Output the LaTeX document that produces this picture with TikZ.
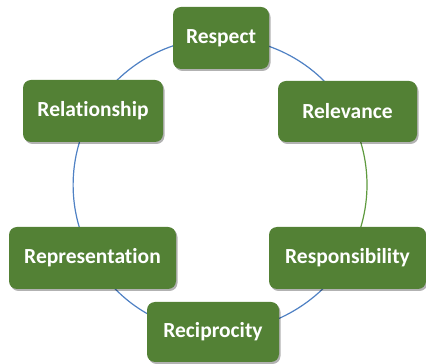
\documentclass[tikz,border=0pt]{standalone}
\usepackage{fontspec}
\setmainfont{Carlito}[Ligatures={NoCommon}]
\usetikzlibrary{shadows,backgrounds}
\definecolor{boxgreen}{HTML}{538135}
\definecolor{ringblue}{HTML}{4F81C4}
\definecolor{ringgreen}{HTML}{5E9A3E}
\begin{document}
\begin{tikzpicture}[x=1pt,y=1pt,
  rbox/.style={draw=none, fill=boxgreen, rounded corners=8pt,
    text=white, font=\fontsize{21.5}{25}\selectfont\bfseries,
    inner sep=0pt, align=center,
    drop shadow={shadow xshift=1.5pt, shadow yshift=-2pt, opacity=0.3, fill=black}},
  ring/.style={line width=1.2pt, ringblue},
  ringg/.style={line width=1.2pt, ringgreen},
  arcseg/.style={bend right=30, looseness=0.91}]
\useasboundingbox (0,0) rectangle (426,364);

\node[rbox, minimum width=96pt,  minimum height=62pt] (respect)  at (221,326)   {Respect};
\node[rbox, minimum width=139pt, minimum height=61pt] (relev)    at (347.5,252.5) {Relevance};
\node[rbox, minimum width=140pt, minimum height=62pt] (relat)    at (93,253)    {Relationship};
\node[rbox, minimum width=167pt, minimum height=62pt] (repres)   at (92.5,106)  {Representation};
\node[rbox, minimum width=157pt, minimum height=62pt] (respons)  at (347.5,106) {Responsibility};
\node[rbox, minimum width=132pt, minimum height=60pt] (recip)    at (213,32)    {Reciprocity};

% white page and ring segments between neighbouring boxes, behind the boxes
\begin{scope}[on background layer]
  \fill[white] (0,0) rectangle (426,364);
  \draw[ring]  (relev.center)   to[arcseg] (respect.center);
  \draw[ring]  (respect.center) to[arcseg] (relat.center);
  \draw[ring]  (relat.center)   to[arcseg] (repres.center);
  \draw[ring]  (repres.center)  to[arcseg] (recip.center);
  \draw[ring]  (recip.center)   to[arcseg] (respons.center);
  \draw[ringg] (respons.center) to[arcseg] (relev.center);
\end{scope}
\end{tikzpicture}
\end{document}
